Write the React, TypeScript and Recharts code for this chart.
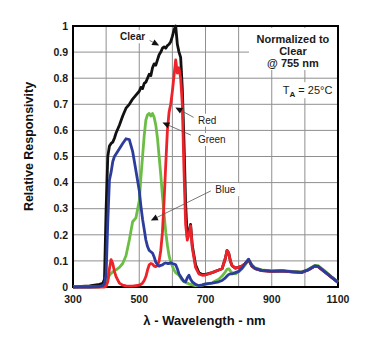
import React from 'react';
import {
  LineChart,
  Line,
  XAxis,
  YAxis,
  CartesianGrid,
  ReferenceArea,
  ReferenceLine,
  ReferenceDot,
  Label,
} from 'recharts';

const wavelengths = [
  300, 350, 380, 390, 395, 400,
  405, 410, 415, 420, 425, 430,
  440, 450, 460, 470, 480, 490,
  500, 505, 510, 515, 520, 525,
  530, 535, 540, 545, 550, 555,
  560, 565, 570, 575, 580, 585,
  590, 595, 600, 605, 610, 615,
  620, 625, 630, 635, 640, 645,
  650, 655, 660, 670, 680, 690,
  700, 720, 740, 750, 760, 765,
  770, 775, 780, 790, 800, 810,
  820, 830, 840, 850, 870, 900,
  930, 960, 990, 1010, 1030, 1040,
  1060, 1080, 1100,
];

const clearSeries = [
  0, 0.004, 0.01, 0.014, 0.03, 0.3,
  0.5, 0.54, 0.55, 0.555, 0.57, 0.59,
  0.62, 0.655, 0.685, 0.7, 0.72, 0.735,
  0.75, 0.765, 0.76, 0.78, 0.785, 0.8,
  0.815, 0.81, 0.84, 0.855, 0.85, 0.87,
  0.89, 0.9, 0.915, 0.92, 0.915, 0.925,
  0.93, 0.94, 0.96, 0.985, 1.0, 0.93,
  0.9, 0.88, 0.76, 0.56, 0.32, 0.19,
  0.21, 0.24, 0.16, 0.085, 0.055, 0.048,
  0.048, 0.055, 0.065, 0.07, 0.11, 0.14,
  0.13, 0.1, 0.082, 0.072, 0.075, 0.08,
  0.09, 0.105, 0.08, 0.07, 0.063, 0.06,
  0.062, 0.058, 0.056, 0.065, 0.08, 0.078,
  0.058, 0.038, 0.018,
];

const redSeries = [
  0, 0, 0, 0, 0, 0.003,
  0.02, 0.07, 0.105, 0.09, 0.06, 0.04,
  0.015, 0.007, 0.004, 0.003, 0.003, 0.005,
  0.007, 0.01, 0.015, 0.025, 0.04, 0.065,
  0.085, 0.09, 0.088, 0.08, 0.078, 0.082,
  0.1, 0.14, 0.21, 0.33, 0.47, 0.6,
  0.67, 0.7, 0.75, 0.81, 0.87, 0.82,
  0.84, 0.8, 0.7, 0.45, 0.24, 0.18,
  0.2, 0.235, 0.15, 0.075, 0.05, 0.045,
  0.046, 0.055, 0.065, 0.07, 0.11, 0.14,
  0.13, 0.1, 0.082, 0.072, 0.075, 0.08,
  0.09, 0.105, 0.08, 0.07, 0.063, 0.06,
  0.062, 0.058, 0.056, 0.065, 0.08, 0.078,
  0.058, 0.038, 0.018,
];

const greenSeries = [
  0, 0, 0, 0.003, 0.008, 0.015,
  0.03, 0.045, 0.052, 0.058, 0.062, 0.066,
  0.075, 0.09, 0.12, 0.18, 0.25, 0.265,
  0.33, 0.42, 0.5, 0.58, 0.64, 0.66,
  0.665, 0.655, 0.665, 0.65, 0.62, 0.57,
  0.5, 0.43, 0.35, 0.28, 0.21, 0.16,
  0.12, 0.095, 0.08, 0.065, 0.055, 0.05,
  0.045, 0.035, 0.026, 0.02, 0.017, 0.015,
  0.012, 0.01, 0.008, 0.005, 0.005, 0.007,
  0.01, 0.016, 0.03, 0.042, 0.058, 0.068,
  0.07, 0.062, 0.055, 0.05, 0.058, 0.07,
  0.085, 0.103, 0.085, 0.073, 0.066, 0.062,
  0.064, 0.06, 0.058, 0.067, 0.083, 0.082,
  0.062, 0.04, 0.02,
];

const blueSeries = [
  0, 0, 0.002, 0.006, 0.012, 0.05,
  0.25, 0.41, 0.44, 0.48, 0.5, 0.51,
  0.53, 0.55, 0.568, 0.565, 0.52, 0.445,
  0.37, 0.31, 0.26, 0.22, 0.18, 0.155,
  0.14, 0.135, 0.13, 0.115, 0.095, 0.085,
  0.08, 0.083, 0.085, 0.09, 0.092, 0.09,
  0.09, 0.093, 0.09, 0.088, 0.085, 0.07,
  0.05, 0.04, 0.03, 0.022, 0.02, 0.035,
  0.045, 0.03, 0.02, 0.01, 0.005, 0.008,
  0.012, 0.015, 0.02, 0.025, 0.035, 0.042,
  0.048, 0.05, 0.05, 0.055, 0.06, 0.072,
  0.09, 0.106, 0.082, 0.071, 0.064, 0.061,
  0.062, 0.059, 0.056, 0.066, 0.081, 0.079,
  0.059, 0.038, 0.018,
];

const xTicks = [300, 400, 500, 600, 700, 800, 900, 1000, 1100];
const xTickLabels = ['300', '', '500', '', '700', '', '900', '', '1100'];
const yTicks = [0, 0.1, 0.2, 0.3, 0.4, 0.5, 0.6, 0.7, 0.8, 0.9, 1];
const yTickLabels = ['0', '0.1', '0.2', '0.3', '0.4', '0.5', '0.6', '0.7', '0.8', '0.9', '1'];

const seriesNames = ['Clear', 'Green', 'Red', 'Blue'];

// annotation anchors in data units (wavelength, responsivity)
const labelAnchors = [
  { text: 'Clear', x: 480, y: 0.959, bold: true },
  { text: 'Red', x: 705, y: 0.639, bold: false },
  { text: 'Green', x: 719, y: 0.565, bold: false },
  { text: 'Blue', x: 760, y: 0.373, bold: false },
];
const leaderSegments = [
  { from: [515, 0.956], to: [560, 0.925] },
  { from: [664, 0.65], to: [609, 0.688] },
  { from: [656, 0.582], to: [570, 0.63] },
  { from: [716, 0.368], to: [535, 0.255] },
];
const noteLines = ['Normalized to', 'Clear', '@ 755 nm'];
const noteAnchor = { x: 964, y: 0.904 };
const tempAnchor = { x: 1083, y: 0.754 };

const FONT = "'Liberation Sans', Arial, Helvetica, sans-serif";

const data = wavelengths.map((w, i) => ({
  w,
  Clear: clearSeries[i],
  Red: redSeries[i],
  Green: greenSeries[i],
  Blue: blueSeries[i],
}));

const colors: Record<string, string> = {
  Clear: '#111111',
  Red: '#ee2229',
  Green: '#6cbd45',
  Blue: '#2b3c9b',
};

const makeTextShape = (text: string, bold: boolean) => (props: any) => {
  const { cx, cy } = props;
  const size = 10;
  const w = text.length * size * 0.6 + 4;
  return (
    <g>
      <rect x={cx - w / 2} y={cy - 6.5} width={w} height={13} fill="#fff" />
      <text
        x={cx}
        y={cy}
        dy="0.35em"
        textAnchor="middle"
        fontFamily={FONT}
        fontSize={size}
        fontWeight={bold ? 'bold' : 'normal'}
        fill="#1a1a1a"
      >
        {text}
      </text>
    </g>
  );
};

const NoteShape = (props: any) => {
  const { cx, cy } = props;
  return (
    <g>
      <rect x={cx - 44} y={cy - 23} width={88} height={42} fill="#fff" />
      {noteLines.map((t, i) => (
        <text
          key={t}
          x={cx}
          y={cy + (i - 1) * 12}
          dy="0.35em"
          textAnchor="middle"
          fontFamily={FONT}
          fontSize={11}
          fontWeight="bold"
          fill="#1a1a1a"
        >
          {t}
        </text>
      ))}
    </g>
  );
};

const TempShape = (props: any) => {
  const { cx, cy } = props;
  return (
    <g>
      <rect x={cx - 56} y={cy - 8} width={60} height={16} fill="#fff" />
      <text
        x={cx}
        y={cy}
        dy="0.35em"
        textAnchor="end"
        fontFamily={FONT}
        fontSize={11}
        fill="#1a1a1a"
      >
        T
        <tspan fontSize={8} fontWeight="bold" dy={3}>A</tspan>
        <tspan dy={-3} fontSize={11}> = 25°C</tspan>
      </text>
    </g>
  );
};

const LeaderShape = (props: any) => {
  const { x1, y1, x2, y2 } = props;
  if ([x1, y1, x2, y2].some((v) => typeof v !== 'number' || isNaN(v))) return null;
  const dx = x2 - x1;
  const dy = y2 - y1;
  const len = Math.hypot(dx, dy) || 1;
  const ux = dx / len;
  const uy = dy / len;
  const L = 7;
  const W = 3.2;
  const bx = x2 - ux * L;
  const by = y2 - uy * L;
  const pts = `${x2},${y2} ${bx - uy * W},${by + ux * W} ${bx + uy * W},${by - ux * W}`;
  return (
    <g>
      <line x1={x1} y1={y1} x2={bx} y2={by} stroke="#555" strokeWidth={0.8} />
      <polygon points={pts} fill="#111" />
    </g>
  );
};

export default function App() {
  return (
    <div style={{ position: 'absolute', left: 0, top: 0 }}>
      <LineChart
        width={376}
        height={340}
        data={data}
        margin={{ top: 26, right: 38, bottom: 23, left: 0 }}
      >
        <CartesianGrid stroke="#8f8f8f" strokeWidth={1} />
        <XAxis
          dataKey="w"
          type="number"
          domain={[300, 1100]}
          ticks={xTicks}
          tickFormatter={(v: number) => xTickLabels[xTicks.indexOf(v)] ?? ''}
          axisLine={false}
          tickLine={false}
          tickSize={6}
          tickMargin={3}
          height={30}
          interval={0}
          tick={{ fontSize: 10.5, fontWeight: 'bold', fill: '#1a1a1a', fontFamily: FONT }}
        >
          <Label
            content={(p: any) => {
              const vb = p.viewBox || {};
              return (
                <text
                  x={vb.x + vb.width / 2 - 1}
                  y={320}
                  dy="0.35em"
                  textAnchor="middle"
                  fontFamily={FONT}
                  fontSize={13}
                  fontWeight="bold"
                  fill="#111"
                >
                  λ - Wavelength - nm
                </text>
              );
            }}
          />
        </XAxis>
        <YAxis
          type="number"
          domain={[0, 1]}
          ticks={yTicks}
          tickFormatter={(v: number) => yTickLabels[yTicks.indexOf(v)] ?? String(v)}
          axisLine={false}
          tickLine={false}
          tickSize={3}
          tickMargin={2}
          width={73}
          interval={0}
          tick={{ fontSize: 10.5, fontWeight: 'bold', fill: '#1a1a1a', fontFamily: FONT }}
        >
          <Label
            content={(p: any) => {
              const vb = p.viewBox || {};
              const cx = 29;
              const cy = vb.y + vb.height / 2 - 10;
              return (
                <text
                  x={cx}
                  y={cy}
                  dy="0.35em"
                  textAnchor="middle"
                  transform={`rotate(-90 ${cx} ${cy})`}
                  fontFamily={FONT}
                  fontSize={12.5}
                  fontWeight="bold"
                  fill="#111"
                >
                  Relative Responsivity
                </text>
              );
            }}
          />
        </YAxis>

        {labelAnchors.map((a) => (
          <ReferenceDot
            key={'lbl-' + a.text}
            x={a.x}
            y={a.y}
            r={1}
            shape={makeTextShape(a.text, a.bold)}
          />
        ))}
        <ReferenceDot x={noteAnchor.x} y={noteAnchor.y} r={1} shape={NoteShape} />
        <ReferenceDot x={tempAnchor.x} y={tempAnchor.y} r={1} shape={TempShape} />

        {seriesNames.map((name) => (
          <Line
            key={name}
            type="linear"
            dataKey={name}
            stroke={colors[name]}
            strokeWidth={2.8}
            strokeLinejoin="round"
            dot={false}
            activeDot={false}
            isAnimationActive={false}
          />
        ))}

        {leaderSegments.map((s, i) => (
          <ReferenceLine
            key={'seg-' + i}
            segment={[
              { x: s.from[0], y: s.from[1] },
              { x: s.to[0], y: s.to[1] },
            ]}
            shape={LeaderShape}
          />
        ))}

        <ReferenceArea
          x1={300}
          x2={1100}
          y1={0}
          y2={1}
          fill="none"
          fillOpacity={0}
          stroke="#000"
          strokeWidth={2}
        />
      </LineChart>
    </div>
  );
}
